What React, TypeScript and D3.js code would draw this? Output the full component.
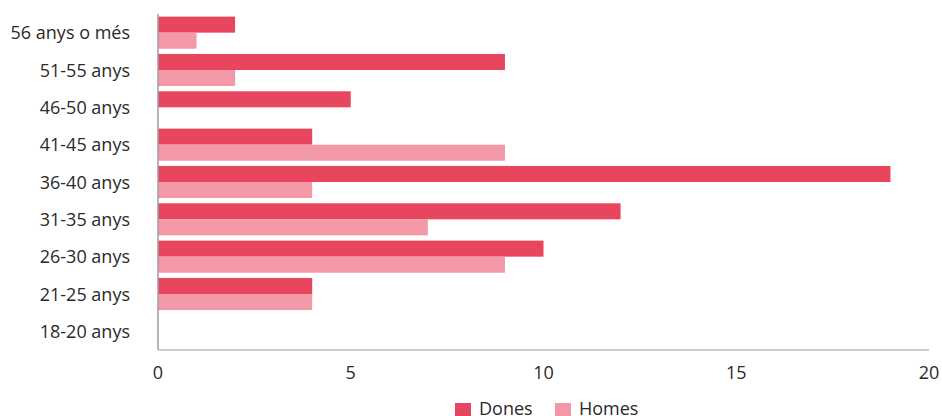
import * as d3 from "d3";

const categories = [
  "56 anys o més",
  "51-55 anys",
  "46-50 anys",
  "41-45 anys",
  "36-40 anys",
  "31-35 anys",
  "26-30 anys",
  "21-25 anys",
  "18-20 anys",
];
const dones = [2, 9, 5, 4, 19, 12, 10, 4, 0];
const homes = [1, 2, 0, 9, 4, 7, 9, 4, 0];
const xTicks = [0, 5, 10, 15, 20];

const SERIES = [
  { key: "Dones", values: dones, color: "#e8455f" },
  { key: "Homes", values: homes, color: "#f298a7" },
];

const W = 942;
const H = 416;
const FONT = "'Open Sans', Lato, sans-serif";

export default function App() {
  const m = { top: 14, right: 13, bottom: 66, left: 158 };
  const w = W - m.left - m.right;
  const h = H - m.top - m.bottom;

  const x = d3.scaleLinear().domain([0, 20]).range([0, w]);
  const y = d3.scaleBand().domain(categories).range([0, h]).paddingInner(0.14).paddingOuter(0.07);
  const inner = d3.scaleBand().domain(SERIES.map((s) => s.key)).range([0, y.bandwidth()]);

  return (
    <svg width={W} height={H} style={{ display: "block", position: "absolute", left: 0, top: 0 }}>
      <g transform={`translate(${m.left},${m.top})`} fontFamily={FONT}>
        {SERIES.map((s) =>
          s.values.map((v, i) => (
            <rect
              key={s.key + i}
              x={x(0)}
              y={(y(categories[i]) ?? 0) + (inner(s.key) ?? 0)}
              width={x(v) - x(0)}
              height={inner.bandwidth()}
              fill={s.color}
            />
          ))
        )}
        <line x1={0} x2={0} y1={0} y2={h} stroke="#9e9e9e" strokeWidth={1.5} />
        <line x1={0} x2={w} y1={h} y2={h} stroke="#bdbdbd" strokeWidth={1.5} />
        {categories.map((c) => (
          <text
            key={c}
            x={-28}
            y={(y(c) ?? 0) + y.bandwidth() / 2 + 6.5}
            textAnchor="end"
            fontSize={18}
            fill="#2a2a2a"
          >
            {c}
          </text>
        ))}
        {xTicks.map((t) => (
          <text
            key={t}
            x={x(t)}
            y={h + 29}
            textAnchor="middle"
            fontSize={18}
            fill="#2a2a2a"
          >
            {t}
          </text>
        ))}
      </g>
      <g fontFamily={FONT}>
        {SERIES.map((s, i) => {
          const lx = 455 + i * 100;
          return (
            <g key={s.key} transform={`translate(${lx},403)`}>
              <rect width={16} height={16} fill={s.color} />
              <text x={24} y={12} fontSize={18} fill="#2a2a2a">
                {s.key}
              </text>
            </g>
          );
        })}
      </g>
    </svg>
  );
}
